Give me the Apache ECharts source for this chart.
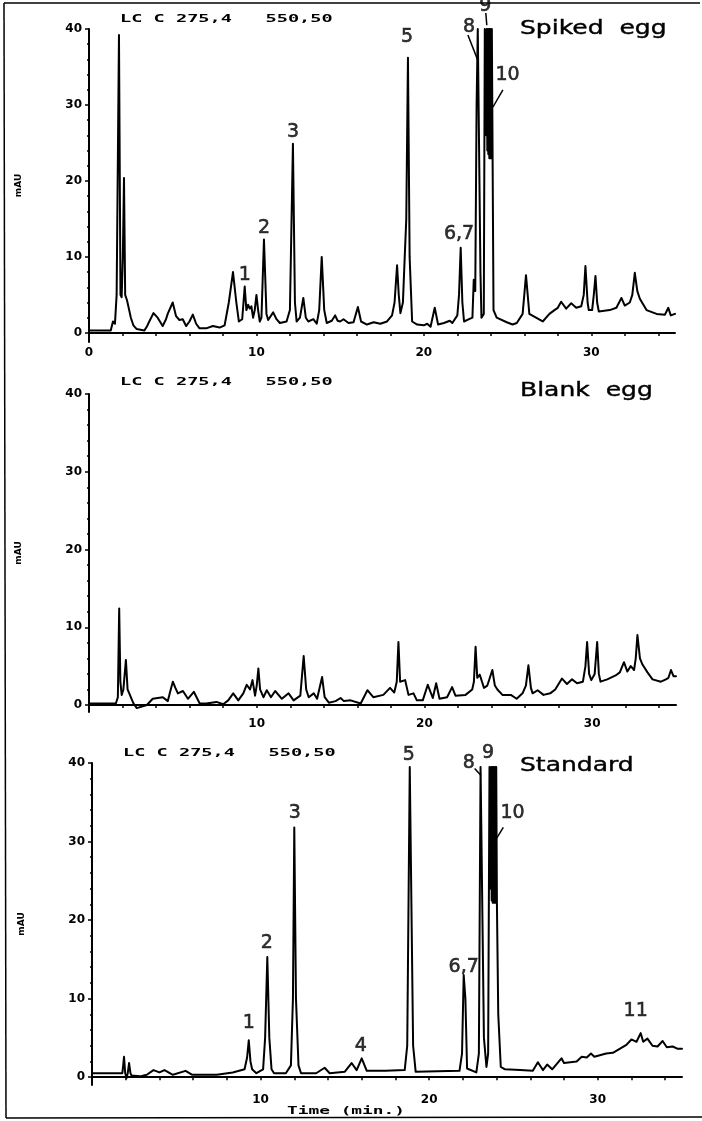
<!DOCTYPE html>
<html>
<head>
<meta charset="utf-8">
<title>HPLC chromatograms</title>
<script src="https://cdn.jsdelivr.net/npm/echarts@6/dist/echarts.min.js"></script>
<style>
  html, body { margin: 0; padding: 0; background: #fff; }
  #main { width: 702px; height: 1121px; }
</style>
</head>
<body>
<div id="main"></div>
<script>
  // Data: [time (min), absorbance (mAU)]
  var spikedTrace = [
    [0, 0.3], [1.3, 0.3], [1.43, 1.5], [1.55, 1.2], [1.65, 5], [1.79, 39.2], [1.88, 5], [1.95, 4.7],
    [2.02, 10], [2.09, 20.4], [2.16, 5], [2.27, 4.3], [2.4, 3], [2.5, 2], [2.65, 1], [2.85, 0.5], [3.3, 0.3],
    [3.45, 0.8], [3.6, 1.5], [3.85, 2.6], [4.1, 2], [4.4, 0.9], [4.6, 1.8], [4.7, 2.5], [5.0, 4.0],
    [5.2, 2.2], [5.4, 1.7], [5.6, 1.8], [5.8, 0.9], [6.0, 1.5], [6.2, 2.4], [6.4, 1.2], [6.6, 0.6],
    [7.0, 0.6], [7.4, 0.9], [7.8, 0.7], [8.1, 1.0], [8.35, 4], [8.6, 8.0], [8.8, 4], [8.95, 1.5],
    [9.15, 1.8], [9.3, 6.1], [9.4, 3], [9.5, 3.7], [9.6, 3.2], [9.7, 3.5], [9.8, 2.0], [9.9, 3],
    [10.0, 5.0], [10.1, 3], [10.2, 1.5], [10.3, 2], [10.45, 12.3], [10.6, 2.5], [10.7, 1.7],
    [11.0, 2.7], [11.2, 1.8], [11.4, 1.3], [11.8, 1.5], [12.0, 3], [12.18, 24.9], [12.3, 4],
    [12.4, 1.5], [12.6, 2], [12.8, 4.6], [12.95, 2], [13.1, 1.5], [13.4, 1.8], [13.6, 1.2],
    [13.75, 3], [13.9, 10.0], [14.05, 3], [14.2, 1.3], [14.5, 1.6], [14.7, 2.3], [14.85, 1.6],
    [15.0, 1.5], [15.2, 1.8], [15.5, 1.3], [15.8, 1.4], [16.06, 3.4], [16.25, 1.5], [16.6, 1.1],
    [17.0, 1.4], [17.4, 1.2], [17.8, 1.5], [18.1, 2.3], [18.25, 4], [18.4, 8.9], [18.5, 5],
    [18.6, 2.6], [18.75, 4], [18.85, 9.6], [18.95, 15], [19.05, 36.2], [19.15, 10], [19.3, 1.5],
    [19.6, 1.1], [20.0, 1.0], [20.2, 1.2], [20.4, 0.8], [20.65, 3.3], [20.85, 1.1], [21.2, 1.3],
    [21.55, 1.6], [21.7, 1.3], [22.0, 2.3], [22.1, 5], [22.2, 11.2], [22.3, 4], [22.4, 1.5],
    [22.7, 1.8], [22.9, 2.0], [22.98, 7.0], [23.07, 5.5], [23.15, 30], [23.22, 40], [23.3, 40],
    [23.38, 8], [23.44, 2.0], [23.58, 2.5], [23.64, 40], [23.7, 40], [23.73, 26], [23.76, 40],
    [23.79, 24], [23.82, 40], [23.85, 23.5], [23.88, 40], [23.91, 23], [23.94, 40], [23.97, 23],
    [24.0, 40], [24.03, 23], [24.06, 40], [24.09, 40], [24.16, 3], [24.35, 2.0], [24.95, 1.4],
    [25.3, 1.1], [25.55, 1.3], [25.9, 2.5], [26.1, 7.6], [26.3, 2.5], [26.7, 2.0], [27.1, 1.5],
    [27.5, 2.5], [27.8, 3.0], [28.0, 3.3], [28.2, 4.1], [28.5, 3.2], [28.8, 3.9], [29.1, 3.3],
    [29.4, 3.5], [29.55, 5], [29.65, 8.8], [29.78, 4], [29.85, 3.0], [30.05, 3.0], [30.15, 5],
    [30.25, 7.5], [30.35, 4], [30.45, 2.8], [31.1, 3.0], [31.5, 3.3], [31.8, 4.6], [32.0, 3.6],
    [32.3, 4.0], [32.45, 5], [32.6, 7.9], [32.75, 5.5], [32.9, 4.5], [33.3, 3.0], [33.9, 2.5],
    [34.4, 2.4], [34.6, 3.3], [34.75, 2.3], [35, 2.5]
  ];

  var blankTrace = [
    [0, 0.2], [1.6, 0.2], [1.72, 1.0], [1.8, 12.4], [1.87, 3], [1.95, 1.3], [2.05, 2], [2.2, 5.8],
    [2.3, 2], [2.4, 1.5], [2.65, 0.2], [2.85, -0.4], [3.45, 0.0], [3.8, 0.8], [4.1, 0.9], [4.4, 1.0],
    [4.7, 0.5], [4.85, 1.8], [5.0, 3.0], [5.15, 2.2], [5.3, 1.5], [5.6, 1.8], [5.9, 0.8], [6.25, 1.7],
    [6.6, 0.2], [7.0, 0.2], [7.6, 0.4], [8.0, 0.1], [8.3, 0.6], [8.6, 1.5], [8.9, 0.6], [9.2, 1.5],
    [9.4, 2.6], [9.6, 2.0], [9.75, 3.2], [9.9, 1.2], [10.0, 2.5], [10.1, 4.7], [10.2, 2], [10.4, 1.0],
    [10.6, 1.9], [10.85, 1.0], [11.1, 1.8], [11.5, 0.8], [11.9, 1.5], [12.2, 0.6], [12.6, 1.2],
    [12.8, 6.3], [12.95, 2], [13.1, 1.0], [13.4, 1.5], [13.6, 0.8], [13.9, 3.6], [14.05, 1],
    [14.3, 0.3], [14.7, 0.5], [15.0, 0.9], [15.2, 0.5], [15.6, 0.6], [16.2, 0.2], [16.6, 1.9],
    [16.95, 1.0], [17.55, 1.3], [17.95, 2.2], [18.2, 1.6], [18.35, 3], [18.45, 8.1], [18.55, 3],
    [18.65, 2.8], [18.85, 3.2], [19.05, 1.3], [19.35, 1.5], [19.55, 0.6], [19.9, 0.6], [20.2, 2.6],
    [20.5, 0.9], [20.7, 2.8], [20.9, 0.8], [21.35, 1.0], [21.65, 2.3], [21.85, 1.2], [22.45, 1.3],
    [22.85, 2.0], [22.95, 3], [23.05, 7.5], [23.15, 3.5], [23.3, 3.9], [23.55, 2.2], [23.75, 2.5],
    [24.05, 4.5], [24.2, 2.5], [24.35, 2.0], [24.65, 1.3], [25.15, 1.3], [25.5, 0.8], [25.85, 1.5],
    [26.05, 2.5], [26.2, 5.1], [26.35, 2.2], [26.45, 1.5], [26.75, 1.9], [27.1, 1.3], [27.5, 1.5],
    [27.8, 2.0], [28.2, 3.4], [28.5, 2.7], [28.8, 3.3], [29.1, 2.8], [29.45, 3.0], [29.6, 5],
    [29.7, 8.1], [29.82, 4], [29.95, 3.2], [30.15, 4], [30.3, 8.1], [30.4, 4], [30.5, 3.0],
    [30.9, 3.3], [31.4, 3.8], [31.65, 4.2], [31.9, 5.5], [32.1, 4.3], [32.3, 5.0], [32.5, 4.5],
    [32.6, 6], [32.7, 9.0], [32.85, 6], [33.0, 5.2], [33.3, 4.2], [33.6, 3.3], [34.1, 3.0],
    [34.4, 3.3], [34.55, 3.5], [34.7, 4.5], [34.85, 3.7], [35, 3.7]
  ];

  var standardTrace = [
    [0, 0.5], [1.8, 0.5], [1.85, 1.5], [1.9, 2.6], [1.97, 0.5], [2.05, -0.1], [2.12, 0.5], [2.2, 1.8],
    [2.28, 0.5], [2.35, 0.2], [2.85, 0.1], [3.25, 0.3], [3.65, 0.9], [4.0, 0.6], [4.3, 0.9],
    [4.8, 0.3], [5.55, 0.8], [5.95, 0.3], [7.4, 0.3], [8.35, 0.6], [9.05, 1.0], [9.2, 2.5],
    [9.3, 4.7], [9.4, 2.0], [9.5, 1.0], [9.75, 0.5], [10.15, 1.0], [10.27, 5], [10.4, 15.3],
    [10.52, 5], [10.65, 1.0], [10.8, 0.5], [11.5, 0.5], [11.8, 1.5], [11.92, 10], [12.0, 31.8],
    [12.1, 10], [12.25, 1.5], [12.4, 0.5], [13.3, 0.5], [13.8, 1.2], [14.1, 0.5], [15.0, 0.7],
    [15.4, 1.8], [15.7, 0.9], [16.0, 2.4], [16.3, 0.8], [17.4, 0.8], [18.55, 0.9], [18.7, 4],
    [18.85, 39.5], [18.95, 39.5], [19.05, 4], [19.2, 0.7], [21.8, 0.8], [21.95, 3], [22.05, 13.0],
    [22.15, 10], [22.25, 1.1], [22.8, 0.6], [22.95, 3], [23.05, 39.5], [23.15, 39.5], [23.25, 5],
    [23.4, 1.3], [23.5, 3], [23.58, 39.5], [23.62, 39.5], [23.65, 24], [23.68, 39.5], [23.71, 22.5],
    [23.74, 39.5], [23.77, 22.2], [23.8, 39.5], [23.83, 22.2], [23.86, 39.5], [23.89, 22.2],
    [23.92, 39.5], [23.95, 22.2], [23.98, 39.5], [24.02, 22.2], [24.1, 8], [24.25, 1.3], [24.5, 1.0],
    [25.4, 0.9], [26.15, 0.8], [26.45, 1.9], [26.75, 0.9], [27.0, 1.6], [27.3, 1.0], [27.85, 2.4],
    [28.0, 1.8], [28.75, 2.0], [29.05, 2.6], [29.35, 2.5], [29.6, 3.0], [29.8, 2.6], [30.5, 3.0],
    [30.9, 3.1], [31.3, 3.6], [31.7, 4.1], [32.0, 4.8], [32.3, 4.5], [32.55, 5.6], [32.7, 4.5],
    [32.95, 4.9], [33.25, 4.0], [33.55, 3.9], [33.85, 4.6], [34.1, 3.8], [34.45, 3.9], [34.75, 3.6],
    [35, 3.6]
  ];

  // Peak numbers: [time, height, text]
  var spikedPeaks = [
    [9.31, 7.6, '1'], [10.45, 13.8, '2'], [12.18, 26.4, '3'], [18.99, 38.9, '5'],
    [22.1, 13.0, '6,7'], [22.7, 40.3, '8'], [23.67, 43.0, '9'], [25.0, 33.9, '10']
  ];
  var standardPeaks = [
    [9.3, 6.9, '1'], [10.37, 17.1, '2'], [12.03, 33.6, '3'], [15.95, 3.9, '4'], [18.8, 41.0, '5'],
    [22.05, 14.0, '6,7'], [22.35, 40.0, '8'], [23.5, 41.3, '9'], [24.95, 33.6, '10'], [32.25, 8.4, '11']
  ];

  // Leader lines from peak numbers to peaks
  var spikedLeaders = [
    [[22.63, 39.2], [23.22, 35.9]],
    [[23.7, 42.1], [23.76, 40.5]],
    [[24.72, 32.0], [24.12, 29.7]]
  ];
  var standardLeaders = [
    [[22.7, 39.3], [23.08, 38.4]],
    [[24.4, 31.8], [24.0, 30.4]]
  ];

  // Axes
  var xTicks = [0, 2, 4, 6, 8, 10, 12, 14, 16, 18, 20, 22, 24, 26, 28, 30, 32, 34];
  var xLabelsFirst = [0, 10, 20, 30];
  var xLabelsOther = [10, 20, 30];
  var yLabels = [0, 10, 20, 30, 40];
  var yMinorTicks = [0, 2, 4, 6, 8, 10, 12, 14, 16, 18, 20, 22, 24, 26, 28, 30, 32, 34, 36, 38, 40];

  var panelNames = ['Spiked  egg', 'Blank  egg', 'Standard'];
  var headerText = 'LC C 275,4   550,50';

  var myChart;

  /**
   * @name initialize
   * @desc build the three stacked chromatograms
   * @returns {void}
   */
  function initialize() {
    myChart = echarts.init(document.getElementById('main'), null, { renderer: 'canvas' });
    paint();
  }

  /**
   * @name paint
   * @desc set chart options
   * @returns {void}
   */
  function paint() {
    var ink = '#000',
      layout = [
        { left: 89, top: 29, width: 586, height: 313, yMin: -1.2, xLabels: xLabelsFirst, margin: 5, header: 19, nameY: 29 },
        { left: 89, top: 394, width: 587, height: 318, yMin: -0.9, xLabels: xLabelsOther, margin: 6, header: 382, nameY: 391 },
        { left: 92, top: 763, width: 590, height: 322, yMin: -1.0, xLabels: xLabelsOther, margin: 9, header: 753, nameY: 766 }
      ],
      traces = [spikedTrace, blankTrace, standardTrace],
      peaks = [spikedPeaks, [], standardPeaks],
      leaders = [spikedLeaders, [], standardLeaders],
      grids = [], xAxes = [], yAxes = [], series = [], graphics = [],
      i;

    for (i = 0; i < 3; i++) {
      grids.push({ left: layout[i].left, top: layout[i].top, width: layout[i].width, height: layout[i].height });
      xAxes.push({
        type: 'value', gridIndex: i, min: 0, max: 35,
        axisLine: { lineStyle: { color: ink, width: 2 } },
        axisTick: { customValues: xTicks, length: 3, lineStyle: { color: ink, width: 1.5 } },
        axisLabel: { customValues: layout[i].xLabels, margin: layout[i].margin, fontFamily: 'DejaVu Sans',
          fontWeight: 'bold', fontSize: 12, color: ink },
        splitLine: { show: false }
      });
      yAxes.push({
        type: 'value', gridIndex: i, min: layout[i].yMin, max: 40, position: 'left',
        name: 'mAU', nameLocation: 'middle', nameGap: 66, nameRotate: 90,
        nameTextStyle: { fontFamily: 'DejaVu Sans', fontWeight: 'bold', fontSize: 9, color: ink },
        axisLine: { show: true, lineStyle: { color: ink, width: 2 } },
        axisTick: { show: true, customValues: yLabels, length: 4, lineStyle: { color: ink, width: 1.5 } },
        axisLabel: { customValues: yLabels, margin: 7, fontFamily: 'DejaVu Sans',
          fontWeight: 'bold', fontSize: 12, color: ink },
        splitLine: { show: false }
      });
    }

    // second set of y axes only for the minor ticks
    for (i = 0; i < 3; i++) {
      yAxes.push({
        type: 'value', gridIndex: i, min: layout[i].yMin, max: 40, position: 'left', offset: 0,
        axisLine: { show: false },
        axisTick: { show: true, customValues: yMinorTicks, length: 2, lineStyle: { color: ink, width: 1.5 } },
        axisLabel: { show: false },
        splitLine: { show: false }
      });
    }

    for (i = 0; i < 3; i++) {
      series.push({
        type: 'line', xAxisIndex: i, yAxisIndex: i, data: traces[i],
        showSymbol: false, symbol: 'none', clip: false, silent: true,
        lineStyle: { color: ink, width: 2, join: 'round', cap: 'round' }
      });

      series.push({
        type: 'scatter', xAxisIndex: i, yAxisIndex: i, clip: false, silent: true,
        symbolSize: 1, itemStyle: { color: 'rgba(0,0,0,0)' },
        data: peaks[i].map(function (p) { return { value: [p[0], p[1]], name: p[2] }; }),
        label: {
          show: true, position: 'inside', formatter: '{b}',
          fontFamily: 'DejaVu Sans', fontSize: 19, color: ink,
          textBorderColor: ink, textBorderWidth: 0.6
        }
      });

      leaders[i].forEach(function (seg) {
        series.push({
          type: 'line', xAxisIndex: i, yAxisIndex: i, data: seg, clip: false, silent: true,
          showSymbol: false, symbol: 'none', lineStyle: { color: ink, width: 1.5 }
        });
      });

      graphics.push({
        type: 'text', x: layout[i].left + 31, y: layout[i].header, scaleX: 1.69, silent: true,
        style: { text: headerText, font: 'bold 11px "DejaVu Sans Mono"', fill: ink, verticalAlign: 'middle' }
      });
      graphics.push({
        type: 'text', x: 520, y: layout[i].nameY, scaleX: 1.25, silent: true,
        style: { text: panelNames[i], font: '20px "DejaVu Sans"', fill: ink, verticalAlign: 'middle',
          stroke: ink, lineWidth: 0.4 }
      });
    }

    graphics.push({
      type: 'text', x: 287, y: 1111, scaleX: 1.62, silent: true,
      style: { text: 'Time (min.)', font: 'bold 11px "DejaVu Sans Mono"', fill: ink, verticalAlign: 'middle' }
    });

    // outer frame
    graphics.push({ type: 'line', silent: true, shape: { x1: 4, y1: 3, x2: 700, y2: 3 }, style: { stroke: ink, lineWidth: 1.5 } });
    graphics.push({ type: 'line', silent: true, shape: { x1: 4, y1: 3, x2: 6, y2: 1118 }, style: { stroke: ink, lineWidth: 1.5 } });
    graphics.push({ type: 'line', silent: true, shape: { x1: 6, y1: 1118, x2: 702, y2: 1117 }, style: { stroke: ink, lineWidth: 1.5 } });

    var option = {
      animation: false,
      backgroundColor: '#fff',
      grid: grids,
      xAxis: xAxes,
      yAxis: yAxes,
      series: series,
      graphic: graphics
    };

    myChart.setOption(option);
  }

  initialize();
</script>
</body>
</html>
